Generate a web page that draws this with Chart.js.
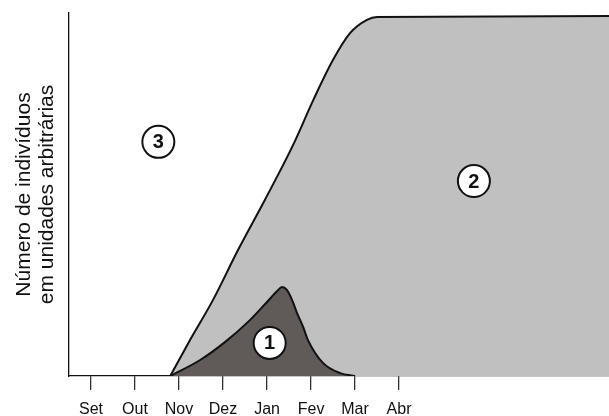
<!DOCTYPE html>
<html>
<head>
<meta charset="utf-8">
<script src="https://cdn.jsdelivr.net/npm/chart.js@4"></script>
<style>
  html, body { margin: 0; padding: 0; background: #fff; overflow: hidden; }
  canvas { display: block; }
</style>
</head>
<body>
<canvas id="myChart" width="609" height="416"></canvas>
<script>
// month ticks, Set = 0
const months = ['Set', 'Out', 'Nov', 'Dez', 'Jan', 'Fev', 'Mar', 'Abr'];

// curve 2 (light grey)
const curve2X = [1.8, 2.25, 2.77, 3.34, 3.95, 4.59, 5.05, 5.5, 5.89, 6.27, 6.5, 11.8];
const curve2Y = [0, 9.9, 20.9, 34.7, 48.5, 63.6, 76.0, 87.1, 94.5, 98.1, 98.9, 99.2];

// curve 1 (dark grey)
const curve1X = [1.8, 2.48, 3.05, 3.61, 4.0, 4.23, 4.34, 4.45, 4.57, 4.68, 4.82, 4.93, 5.27, 5.66, 6.0];
const curve1Y = [0, 4.4, 9.4, 15.4, 20.4, 23.4, 24.5, 23.7, 20.9, 17.4, 13.5, 9.9, 3.6, 0.8, 0];

// circled region labels
const regionText = ['3', '2', '1'];
const regionX = [1.53, 8.7, 4.06];
const regionY = [64.5, 53.7, 9.1];

const toPoints = (xs, ys) => xs.map((x, i) => ({x: x, y: ys[i]}));

const circleText = {
  id: 'circleText',
  afterDatasetsDraw(chart) {
    const ctx = chart.ctx;
    const meta = chart.getDatasetMeta(2);
    ctx.save();
    ctx.font = 'bold 20px "Liberation Sans", Arial, sans-serif';
    ctx.fillStyle = '#111';
    ctx.textAlign = 'center';
    ctx.textBaseline = 'middle';
    meta.data.forEach((pt, i) => {
      ctx.fillText(regionText[i], pt.x, pt.y + 1);
    });
    ctx.restore();
  }
};

Chart.defaults.font.family = '"Liberation Sans", Arial, sans-serif';
Chart.defaults.color = '#111';

const config = {
  type: 'line',
  data: {
    datasets: [
      {
        label: '1',
        data: toPoints(curve1X, curve1Y),
        borderColor: '#111',
        borderWidth: 2,
        backgroundColor: 'rgb(96, 91, 88)',
        fill: 'origin',
        pointRadius: 0,
        cubicInterpolationMode: 'monotone',
        order: 1
      },
      {
        label: '2',
        data: toPoints(curve2X, curve2Y),
        borderColor: '#111',
        borderWidth: 2,
        backgroundColor: 'rgb(192, 192, 192)',
        fill: 'origin',
        pointRadius: 0,
        cubicInterpolationMode: 'monotone',
        order: 2
      },
      {
        type: 'scatter',
        label: 'regions',
        data: toPoints(regionX, regionY),
        showLine: false,
        pointRadius: 16,
        pointBorderWidth: 2,
        pointBackgroundColor: '#fff',
        pointBorderColor: '#111',
        order: 0
      }
    ]
  },
  options: {
    responsive: false,
    animation: false,
    layout: { autoPadding: false, padding: { top: 13, left: 0, right: 0, bottom: 0 } },
    plugins: {
      legend: { display: false },
      tooltip: { enabled: false }
    },
    scales: {
      x: {
        type: 'linear',
        min: -0.5,
        max: 11.77,
        z: 1,
        afterBuildTicks: (scale) => {
          scale.ticks = months.map((m, i) => ({value: i}));
        },
        afterFit: (scale) => {
          scale.height = 40;
          scale.paddingLeft = 0;
          scale.paddingRight = 0;
        },
        ticks: {
          callback: (v) => months[v],
          font: { size: 16 },
          padding: 10,
          maxRotation: 0
        },
        grid: {
          drawOnChartArea: false,
          drawTicks: true,
          tickLength: 14,
          color: '#333',
          lineWidth: 1.3
        },
        border: { display: true, color: '#111', width: 1.3 }
      },
      y: {
        min: 0,
        max: 100,
        afterFit: (scale) => { scale.width = 69; },
        ticks: { display: false },
        grid: { display: false },
        border: { display: true, color: '#111', width: 1.3 },
        title: {
          display: true,
          text: ['Número de indivíduos', 'em unidades arbitrárias'],
          font: { size: 21, lineHeight: 1.1 },
          color: '#111',
          padding: { top: 13, bottom: 0 }
        }
      }
    }
  },
  plugins: [circleText]
};

const myChart = new Chart(document.getElementById('myChart').getContext('2d'), config);
</script>
</body>
</html>
